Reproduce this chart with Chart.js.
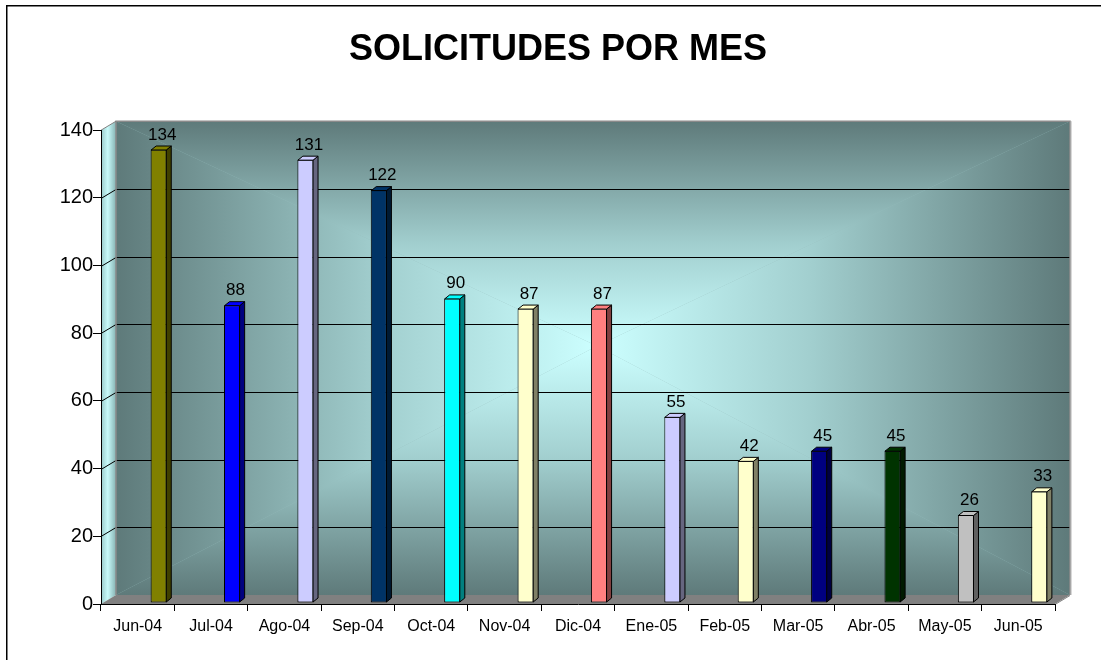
<!DOCTYPE html>
<html>
<head>
<meta charset="utf-8">
<title>Solicitudes por mes</title>
<script src="https://cdn.jsdelivr.net/npm/chart.js@4.4.1/dist/chart.umd.min.js"></script>
<style>
  html, body { margin: 0; padding: 0; background: #fff; }
  #wrap { width: 1101px; height: 660px; }
</style>
</head>
<body>
<div id="wrap"><canvas id="chart" width="1101" height="660"></canvas></div>
<script>
const months = ['Jun-04', 'Jul-04', 'Ago-04', 'Sep-04', 'Oct-04', 'Nov-04', 'Dic-04',
  'Ene-05', 'Feb-05', 'Mar-05', 'Abr-05', 'May-05', 'Jun-05'];
const requests = [134, 88, 131, 122, 90, 87, 87, 55, 42, 45, 45, 26, 33];
const barColors = ['#808000', '#0000FF', '#CCCCFF', '#003366', '#00FFFF', '#FFFFCC', '#FF8080',
  '#CCCCFF', '#FFFFCC', '#000080', '#003300', '#C0C0C0', '#FFFFCC'];
const yMin = 0;
const yMax = 140;
const yStep = 20;

// 3d look
const WALL_DX = 15, WALL_DY = 9;
const BAR_DX = 5, BAR_DY = 4;
const BAR_SHIFT_X = 21, BAR_SHIFT_Y = -1;

const FONT = "'Liberation Sans', Arial, sans-serif";

const shade = (hex, f) => {
  const n = parseInt(hex.slice(1), 16);
  const r = Math.round(((n >> 16) & 255) * f);
  const g = Math.round(((n >> 8) & 255) * f);
  const b = Math.round((n & 255) * f);
  return `rgb(${r},${g},${b})`;
};

const poly = (ctx, pts) => {
  ctx.beginPath();
  ctx.moveTo(pts[0][0], pts[0][1]);
  for (let i = 1; i < pts.length; i++) ctx.lineTo(pts[i][0], pts[i][1]);
  ctx.closePath();
};

const wallPlugin = {
  id: 'wall3d',
  beforeDraw(chart) {
    const { ctx, chartArea: a, scales } = chart;
    const L = a.left, R = a.right, T = a.top, B = a.bottom;
    const x0 = L + WALL_DX, x1 = R + WALL_DX, y0 = T - WALL_DY, y1 = B - WALL_DY;
    ctx.save();

    // outer frame
    ctx.strokeStyle = '#000';
    ctx.lineWidth = 1.5;
    ctx.strokeRect(6.75, 5.75, 2000, 2000);

    // back wall, rectangular "from centre" gradient
    const cx = (x0 + x1) / 2 + 4, cy = (y0 + y1) / 2 - 12;
    const stops = [[0, '#ccffff'], [0.45, '#a2cfcf'], [1, '#5e7a7a']];
    ctx.fillStyle = '#95bcbc';
    ctx.fillRect(x0, y0, x1 - x0, y1 - y0);
    const tris = [
      [[x0, y0], [x1, y0], [cx, cy], [0, cy, 0, y0]],
      [[x0, y1], [x1, y1], [cx, cy], [0, cy, 0, y1]],
      [[x0, y0], [x0, y1], [cx, cy], [cx, 0, x0, 0]],
      [[x1, y0], [x1, y1], [cx, cy], [cx, 0, x1, 0]]
    ];
    tris.forEach(t => {
      const g = ctx.createLinearGradient(...t[3]);
      stops.forEach(s => g.addColorStop(s[0], s[1]));
      ctx.fillStyle = g;
      poly(ctx, t.slice(0, 3));
      ctx.fill();
    });

    // left side wall
    const lg = ctx.createLinearGradient(L, 0, x0, 0);
    lg.addColorStop(0, '#98c8c8');
    lg.addColorStop(0.45, '#c8fafa');
    lg.addColorStop(1, '#86b2b2');
    ctx.fillStyle = lg;
    poly(ctx, [[L, B], [L, T], [x0, y0], [x0, y1]]);
    ctx.fill();

    // floor
    ctx.fillStyle = '#808080';
    poly(ctx, [[L, B], [R, B], [x1, y1], [x0, y1]]);
    ctx.fill();

    // gridlines on the walls
    ctx.strokeStyle = '#000';
    ctx.lineWidth = 1;
    scales.y.ticks.forEach(t => {
      if (t.value <= yMin || t.value >= yMax) return;
      const y = Math.round(scales.y.getPixelForValue(t.value)) + 0.5;
      ctx.beginPath();
      ctx.moveTo(L, y);
      ctx.lineTo(x0, y - WALL_DY);
      ctx.lineTo(x1, y - WALL_DY);
      ctx.stroke();
    });

    // wall edges
    ctx.strokeStyle = '#8a8a8a';
    ctx.lineWidth = 1.5;
    ctx.beginPath();
    ctx.moveTo(x0, y1);
    ctx.lineTo(x0, y0);
    ctx.lineTo(x1, y0);
    ctx.lineTo(x1, y1);
    ctx.stroke();
    ctx.strokeStyle = '#d8d8d8';
    ctx.lineWidth = 1;
    ctx.beginPath();
    ctx.moveTo(x1 + 1.5, y0);
    ctx.lineTo(x1 + 1.5, y1);
    ctx.stroke();
    ctx.strokeStyle = '#808080';
    ctx.beginPath();
    ctx.moveTo(L, T);
    ctx.lineTo(x0, y0);
    ctx.moveTo(R, B + 0.5);
    ctx.lineTo(x1, y1 + 0.5);
    ctx.stroke();
    ctx.restore();
  },
  beforeDatasetsDraw(chart) {
    chart.ctx.save();
    chart.ctx.translate(BAR_SHIFT_X, BAR_SHIFT_Y);
  },
  afterDatasetsDraw(chart) {
    const ctx = chart.ctx;
    const meta = chart.getDatasetMeta(0);
    ctx.lineWidth = 1;
    ctx.strokeStyle = '#000';
    meta.data.forEach((bar, i) => {
      const { x, y, base, width } = bar.getProps(['x', 'y', 'base', 'width'], true);
      const l = x - width / 2 + 0.5, r = x + width / 2 - 0.5;
      const col = barColors[i];
      // side face
      ctx.fillStyle = shade(col, 0.5);
      poly(ctx, [[r, y + 0.5], [r + BAR_DX, y + 0.5 - BAR_DY], [r + BAR_DX, base - 0.5 - BAR_DY], [r, base - 0.5]]);
      ctx.fill();
      ctx.stroke();
      // top face
      ctx.fillStyle = col;
      poly(ctx, [[l, y + 0.5], [l + BAR_DX, y + 0.5 - BAR_DY], [r + BAR_DX, y + 0.5 - BAR_DY], [r, y + 0.5]]);
      ctx.fill();
      ctx.stroke();
      // value label
      ctx.fillStyle = '#000';
      ctx.font = `17px ${FONT}`;
      ctx.textAlign = 'center';
      ctx.textBaseline = 'alphabetic';
      ctx.fillText(String(requests[i]), x + BAR_DX / 2 + 1, y - BAR_DY - 6);
    });
    ctx.restore();
  }
};

Chart.defaults.font.family = FONT;
Chart.defaults.color = '#000';

new Chart(document.getElementById('chart'), {
  type: 'bar',
  data: {
    labels: months,
    datasets: [{
      data: requests,
      backgroundColor: barColors,
      borderColor: '#000',
      borderWidth: 1,
      borderSkipped: false,
      barPercentage: 0.22,
      categoryPercentage: 1.0
    }]
  },
  options: {
    responsive: false,
    animation: false,
    devicePixelRatio: 1,
    layout: { padding: { left: 61, right: 46, top: 0, bottom: 0 } },
    plugins: {
      legend: { display: false },
      tooltip: { enabled: false },
      title: {
        display: true,
        text: 'SOLICITUDES POR MES',
        color: '#000',
        font: { size: 36, weight: 'bold', family: FONT, lineHeight: 1.2 },
        padding: { top: 28, bottom: 59 }
      }
    },
    scales: {
      x: {
        grid: { offset: true, drawOnChartArea: false, tickLength: 7, color: '#000' },
        border: { color: '#000', width: 1 },
        ticks: { font: { size: 16 }, color: '#000', padding: 6, maxRotation: 0, autoSkip: false },
        afterFit: s => { s.height = 56; }
      },
      y: {
        min: yMin,
        max: yMax,
        grid: { drawOnChartArea: false, tickLength: 8, color: '#000' },
        border: { color: '#000', width: 1 },
        ticks: { stepSize: yStep, font: { size: 20 }, color: '#000', padding: 0 },
        afterFit: s => { s.width = 40; }
      }
    }
  },
  plugins: [wallPlugin]
});
</script>
</body>
</html>
